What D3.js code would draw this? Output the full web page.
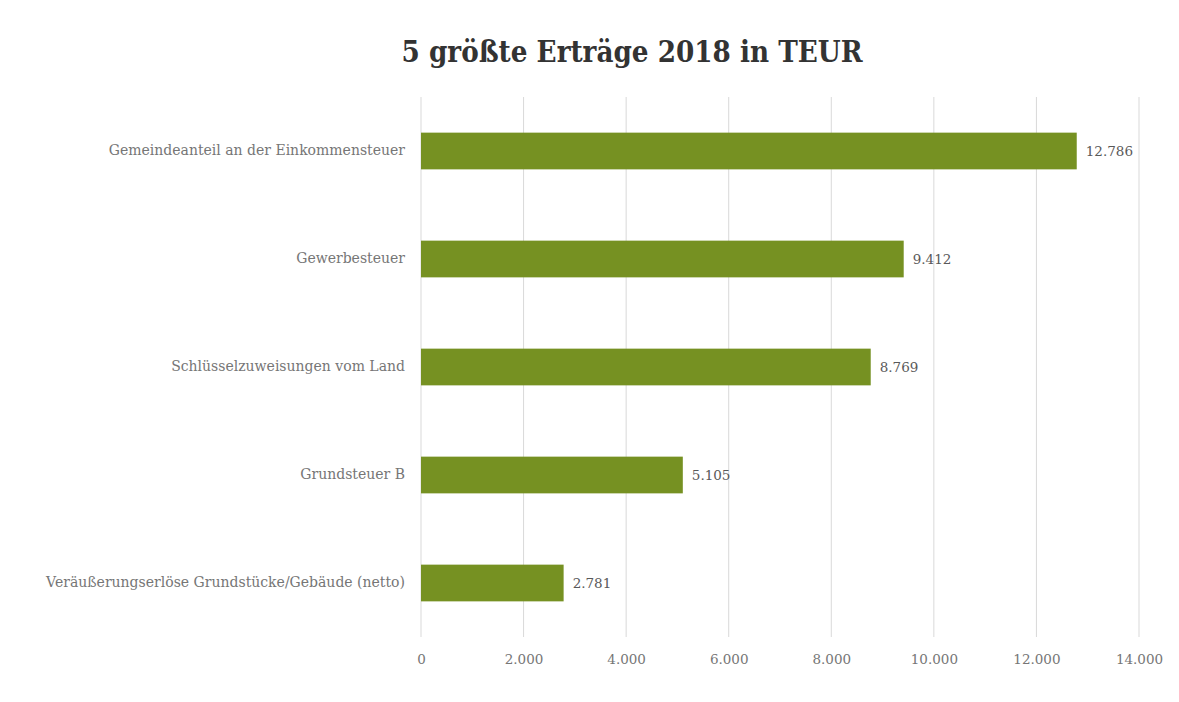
<!DOCTYPE html>
<html>
<head>
<meta charset="utf-8">
<script src="https://cdn.jsdelivr.net/npm/d3@7"></script>
<style>
  body { margin: 0; background: #fff; }
  text { font-family: "DejaVu Serif", serif; }
</style>
</head>
<body>
<div id="chart-area"></div>
<script>
const categories = [
  'Gemeindeanteil an der Einkommensteuer',
  'Gewerbesteuer',
  'Schlüsselzuweisungen vom Land',
  'Grundsteuer B',
  'Veräußerungserlöse Grundstücke/Gebäude (netto)'
];
const values = [12786, 9412, 8769, 5105, 2781];
const xTicks = [0, 2000, 4000, 6000, 8000, 10000, 12000, 14000];
const title = '5 größte Erträge 2018 in TEUR';

const fmt = n => d3.format(',')(n).replace(/,/g, '.');

const drawChart = () => {
  const chartSize = { width: 1179, height: 702 };
  const margin = { left: 421, right: 40, top: 97, bottom: 65 };
  const width = chartSize.width - margin.left - margin.right;
  const height = chartSize.height - margin.top - margin.bottom;

  const svg = d3.select('#chart-area')
    .append('svg')
    .attr('width', chartSize.width)
    .attr('height', chartSize.height);

  svg.append('text')
    .attr('x', 632)
    .attr('y', 62)
    .attr('text-anchor', 'middle')
    .attr('font-size', 30)
    .attr('font-weight', 'bold')
    .attr('fill', '#333333')
    .attr('textLength', 461)
    .attr('lengthAdjust', 'spacingAndGlyphs')
    .text(title);

  const g = svg.append('g')
    .attr('transform', `translate(${margin.left},${margin.top})`);

  const x = d3.scaleLinear().domain([0, 14000]).range([0, width]);
  const y = d3.scaleBand().domain(categories).range([0, height]).paddingInner(0.66).paddingOuter(0.33);

  g.append('g').attr('class', 'grid')
    .selectAll('line').data(xTicks).enter().append('line')
    .attr('x1', d => x(d)).attr('x2', d => x(d))
    .attr('y1', 0).attr('y2', height)
    .attr('stroke', '#d9d9d9').attr('stroke-width', 1);

  const xAxis = d3.axisBottom(x).tickValues(xTicks).tickFormat(fmt).tickSize(0).tickPadding(17);
  g.append('g').attr('class', 'x-axis')
    .attr('transform', `translate(0,${height})`)
    .call(xAxis)
    .call(a => a.select('.domain').remove())
    .selectAll('text')
    .attr('font-family', '"DejaVu Serif", serif')
    .attr('font-size', 13.5)
    .attr('fill', '#767676');

  const yAxis = d3.axisLeft(y).tickSize(0).tickPadding(16);
  g.append('g').attr('class', 'y-axis')
    .call(yAxis)
    .call(a => a.select('.domain').remove())
    .selectAll('text')
    .attr('font-family', '"DejaVu Serif", serif')
    .attr('font-size', 14)
    .attr('fill', '#767676');

  const data = categories.map((c, i) => ({ name: c, value: values[i] }));

  g.selectAll('rect.bar').data(data).enter().append('rect')
    .attr('class', 'bar')
    .attr('x', x(0))
    .attr('y', d => y(d.name))
    .attr('width', d => x(d.value) - x(0))
    .attr('height', y.bandwidth())
    .attr('fill', '#769122');

  g.selectAll('text.value').data(data).enter().append('text')
    .attr('class', 'value')
    .attr('x', d => x(d.value) + 9)
    .attr('y', d => y(d.name) + y.bandwidth() / 2)
    .attr('dy', '0.35em')
    .attr('font-size', 13.5)
    .attr('fill', '#595959')
    .text(d => fmt(d.value));
};

window.onload = drawChart;
</script>
</body>
</html>
